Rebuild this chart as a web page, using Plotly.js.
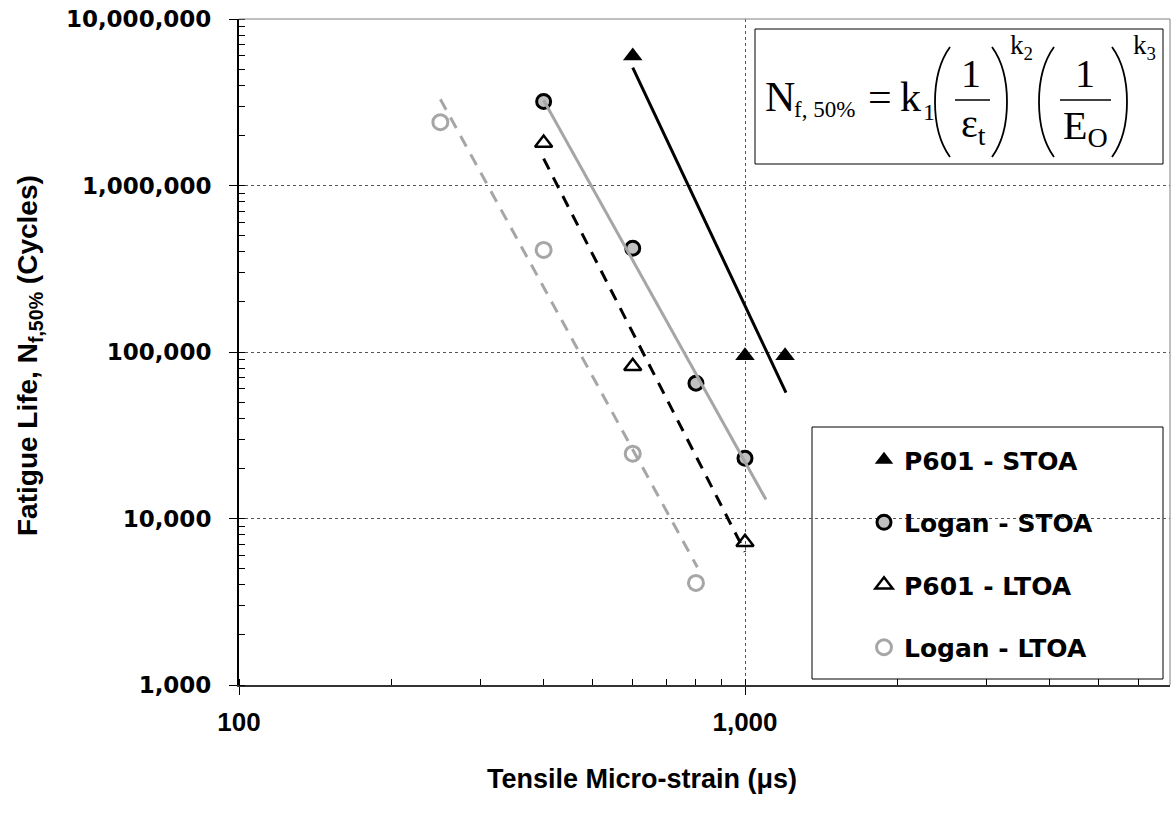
<!DOCTYPE html>
<html><head><meta charset="utf-8">
<script src="https://cdn.plot.ly/plotly-3.0.1.min.js"></script>
<style>html,body{margin:0;padding:0;background:#fff;} #chart{width:1175px;height:813px;}</style>
</head><body><div id="chart"></div>
<script>
// ---- data ----
const seriesNames = ['P601 - STOA', 'Logan - STOA', 'P601 - LTOA', 'Logan - LTOA'];
const p601StoaStrain = [600, 1000, 1200];
const p601StoaLife   = [6000000, 95000, 95000];
const loganStoaStrain = [400, 600, 800, 1000];
const loganStoaLife   = [3200000, 420000, 65000, 23000];
const p601LtoaStrain = [400, 600, 1000];
const p601LtoaLife   = [1800000, 82000, 7200];
const loganLtoaStrain = [250, 400, 600, 800];
const loganLtoaLife   = [2400000, 410000, 24500, 4100];
// fitted trend lines (end points)
const p601StoaFitStrain = [600, 1205];
const p601StoaFitLife   = [5100000, 57000];
const loganStoaFitStrain = [400, 1100];
const loganStoaFitLife   = [3250000, 13000];
const p601LtoaFitStrain = [400, 1000];
const p601LtoaFitLife   = [1450000, 6300];
const loganLtoaFitStrain = [250, 805];
const loganLtoaFitLife   = [3300000, 5100];
// axis ticks
const xTickVals = [100, 1000];
const xTickText = ['100', '1,000'];
const yTickVals = [1000, 10000, 100000, 1000000, 10000000];
const yTickText = ['1,000', '10,000', '100,000', '1,000,000', '10,000,000'];

// ---- layout helpers (pixel -> paper) ----
const W = 1175, H = 813, ML = 239, MR = 5, MT = 19, MB = 128;
const PW = W - ML - MR, PH = H - MT - MB;
const PX = x => (x - ML) / PW;
const PY = y => (H - MB - y) / PH;

const GREY = '#a6a6a6';
const FILLGREY = '#c0c0c0';

const traces = [
  {x: p601StoaStrain, y: p601StoaLife, name: seriesNames[0], legendgroup: 'a', mode: 'markers', type: 'scatter',
   marker: {symbol: 'triangle-up', size: 17, color: '#000'}},
  {x: loganStoaStrain, y: loganStoaLife, name: seriesNames[1], legendgroup: 'b', mode: 'markers', type: 'scatter',
   marker: {symbol: 'circle', size: 14, color: FILLGREY, line: {color: '#000', width: 3}}},
  {x: p601LtoaStrain, y: p601LtoaLife, name: seriesNames[2], legendgroup: 'c', mode: 'markers', type: 'scatter',
   marker: {symbol: 'triangle-up-open', size: 15, color: '#000', line: {width: 2.5}}},
  {x: loganLtoaStrain, y: loganLtoaLife, name: seriesNames[3], legendgroup: 'd', mode: 'markers', type: 'scatter',
   marker: {symbol: 'circle-open', size: 15, color: GREY, line: {width: 3}}},
  {x: p601StoaFitStrain, y: p601StoaFitLife, mode: 'lines', type: 'scatter', showlegend: false, hoverinfo: 'skip',
   line: {color: '#000', width: 3}},
  {x: loganStoaFitStrain, y: loganStoaFitLife, mode: 'lines', type: 'scatter', showlegend: false, hoverinfo: 'skip',
   line: {color: GREY, width: 3}},
  {x: p601LtoaFitStrain, y: p601LtoaFitLife, mode: 'lines', type: 'scatter', showlegend: false, hoverinfo: 'skip',
   line: {color: '#000', width: 3, dash: '12px,9px'}},
  {x: loganLtoaFitStrain, y: loganLtoaFitLife, mode: 'lines', type: 'scatter', showlegend: false, hoverinfo: 'skip',
   line: {color: GREY, width: 3, dash: '12px,9px'}}
];

const SANS = 'Liberation Sans, Arial, sans-serif';
const WIDE = 'DejaVu Sans, Verdana, sans-serif';
const serif = 'Liberation Serif, Times New Roman, serif';

// parenthesis path helper (pixel coords -> paper)
function paren(xl, xr, top, bot, open) {
  const h = bot - top;
  const tip = open ? xr : xl, belly = open ? xl : xr;
  const c = (belly - 0.25 * tip) / 0.75;
  return `M${PX(tip)},${PY(top)} C${PX(c)},${PY(top + 0.25 * h)} ${PX(c)},${PY(bot - 0.25 * h)} ${PX(tip)},${PY(bot)}`;
}

const shapes = [
  {type: 'line', xref: 'paper', yref: 'paper', x0: 0, x1: 1, y0: 1, y1: 1, line: {color: '#808080', width: 1}},
  {type: 'line', xref: 'paper', yref: 'paper', x0: 1, x1: 1, y0: 0, y1: 1, line: {color: '#808080', width: 1}},
  {type: 'rect', xref: 'paper', yref: 'paper', layer: 'between', x0: PX(755), x1: PX(1163), y0: PY(164), y1: PY(29),
   line: {color: '#000', width: 1}, fillcolor: '#fff'},
  {type: 'rect', xref: 'paper', yref: 'paper', layer: 'between', x0: PX(812), x1: PX(1163), y0: PY(679), y1: PY(427),
   line: {color: '#000', width: 1}, fillcolor: '#fff'},
  {type: 'line', xref: 'paper', yref: 'paper', x0: PX(955), x1: PX(990), y0: PY(100), y1: PY(100), line: {color: '#000', width: 1.5}},
  {type: 'line', xref: 'paper', yref: 'paper', x0: PX(1060), x1: PX(1111), y0: PY(100), y1: PY(100), line: {color: '#000', width: 1.5}},
  {type: 'path', xref: 'paper', yref: 'paper', path: paren(935, 950, 47, 157, true), line: {color: '#000', width: 1.8}},
  {type: 'path', xref: 'paper', yref: 'paper', path: paren(992, 1007, 47, 157, false), line: {color: '#000', width: 1.8}},
  {type: 'path', xref: 'paper', yref: 'paper', path: paren(1039, 1054, 47, 157, true), line: {color: '#000', width: 1.8}},
  {type: 'path', xref: 'paper', yref: 'paper', path: paren(1112, 1127, 47, 157, false), line: {color: '#000', width: 1.8}}
];

const eqFont = (s) => ({family: serif, size: s, color: '#000'});
const ann = (text, x, y, xa, size, extra) => Object.assign({text: text, x: PX(x), y: PY(y), xanchor: xa, yanchor: 'middle',
  showarrow: false, xref: 'paper', yref: 'paper', font: eqFont(size)}, extra || {});
const annotations = [
  ann('N', 763, 97, 'left', 42),
  ann('f, 50%', 792, 110, 'left', 23),
  ann('=', 866, 97, 'left', 42),
  ann('k', 898, 97, 'left', 42),
  ann('1', 921, 112, 'left', 24),
  ann('1', 971, 74, 'center', 40),
  ann('ε<sub>t</sub>', 973, 126, 'center', 40),
  ann('1', 1085, 74, 'center', 40),
  ann('E<sub>O</sub>', 1085, 128, 'center', 40),
  ann('k<sub>2</sub>', 1008, 47, 'left', 27),
  ann('k<sub>3</sub>', 1131, 47, 'left', 27),
  // axis titles
  {text: 'Tensile Micro-strain (μs)', x: PX(642), y: PY(779), xanchor: 'center', yanchor: 'middle', showarrow: false,
   xref: 'paper', yref: 'paper', font: {family: SANS, size: 27, color: '#000', weight: 'bold'}},
  {text: 'Fatigue Life, N<sub>f,50%</sub> (Cycles)', x: PX(29), y: PY(356), xanchor: 'center', yanchor: 'middle',
   textangle: -90, showarrow: false, xref: 'paper', yref: 'paper', font: {family: SANS, size: 28, color: '#000', weight: 'bold'}}
];

const layout = {
  width: W, height: H,
  margin: {l: ML, r: MR, t: MT, b: MB, pad: 0},
  paper_bgcolor: '#fff', plot_bgcolor: '#fff',
  showlegend: true,
  legend: {x: PX(864), y: PY(437), xanchor: 'left', yanchor: 'top', bgcolor: 'rgba(0,0,0,0)', borderwidth: 0,
           tracegroupgap: 27, font: {family: WIDE, size: 25, color: '#000', weight: 'bold'}},
  xaxis: {type: 'log', range: [2, 2 + PW / 506], tickvals: xTickVals, ticktext: xTickText,
          ticks: 'outside', ticklen: 8, tickcolor: '#000', tickwidth: 1, ticklabelstandoff: 5,
          showline: true, linecolor: '#333', linewidth: 2,
          showgrid: true, gridcolor: '#555', griddash: 'dot', gridwidth: 1, zeroline: false,
          minor: {ticks: 'inside', ticklen: 6, tickcolor: '#000', tickwidth: 1, dtick: 'D1', showgrid: false},
          tickfont: {family: SANS, size: 26, color: '#000', weight: 'bold'}},
  yaxis: {type: 'log', range: [3, 7], tickvals: yTickVals, ticktext: yTickText,
          ticks: 'outside', ticklen: 8, tickcolor: '#000', tickwidth: 1, ticklabelstandoff: 13,
          showline: true, linecolor: '#000', linewidth: 2,
          showgrid: true, gridcolor: '#555', griddash: 'dot', gridwidth: 1, zeroline: false,
          minor: {ticks: 'inside', ticklen: 6, tickcolor: '#000', tickwidth: 1, dtick: 'D1', showgrid: false},
          tickfont: {family: WIDE, size: 23, color: '#000', weight: 'bold'}},
  shapes: shapes,
  annotations: annotations
};

Plotly.newPlot('chart', traces, layout, {displayModeBar: false, staticPlot: true});
</script>
</body></html>
